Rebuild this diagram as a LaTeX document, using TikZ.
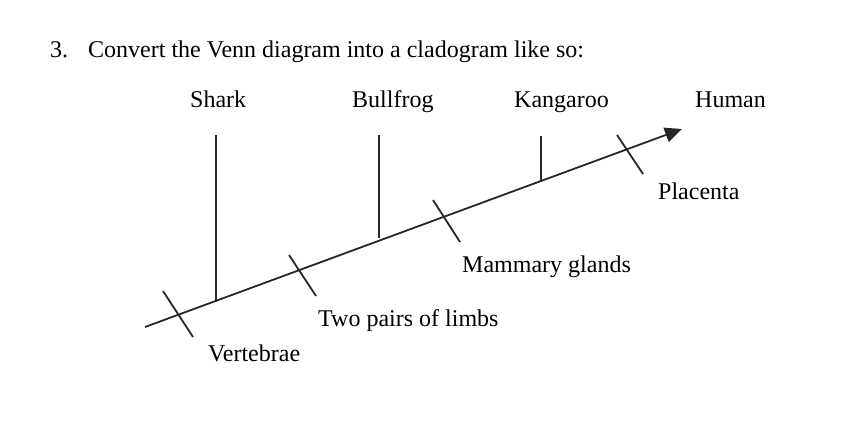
\documentclass[tikz,border=0pt]{standalone}
\usepackage{fontspec}
\setmainfont{Liberation Serif}
\usetikzlibrary{arrows.meta}
\begin{document}
\begin{tikzpicture}[x=1pt,y=-1pt,
  lbl/.style={anchor=base west,inner sep=0pt,font=\fontsize{24}{28}\selectfont},
  ln/.style={line width=1.8pt,draw=black!85}]
\useasboundingbox (0,0) rectangle (842,420);
% title
\node[lbl] (num) at (50,58) {3.};
\node[lbl] (title) at (88,58) {Convert the Venn diagram into a cladogram like so:};
% taxa
\node[lbl] (shark) at (190,107) {Shark};
\node[lbl] (frog) at (352,107) {Bullfrog};
\node[lbl] (kang) at (514,107) {Kangaroo};
\node[lbl] (human) at (695,107) {Human};
% traits
\node[lbl] (plac) at (658,199) {Placenta};
\node[lbl] (mamm) at (462,272) {Mammary glands};
\node[lbl] (limbs) at (318,326) {Two pairs of limbs};
\node[lbl] (vert) at (208,361) {Vertebrae};
% main axis
\coordinate (s) at (145,327);
\coordinate (e) at (682,129);
\draw[ln,-{Triangle[length=17pt,width=15pt]}] (s) -- (e);
% vertical branches
\coordinate (sharkT) at (216,135);
\coordinate (sharkB) at (216,302);
\coordinate (frogT) at (379,135);
\coordinate (frogB) at (379,238);
\coordinate (kangT) at (541,136);
\coordinate (kangB) at (541,182);
\draw[ln] (sharkT) -- (sharkB);
\draw[ln] (frogT) -- (frogB);
\draw[ln] (kangT) -- (kangB);
% hatch marks
\coordinate (v1) at (163,291); \coordinate (v2) at (193,337);
\coordinate (l1) at (289,255); \coordinate (l2) at (316,296);
\coordinate (m1) at (433,200); \coordinate (m2) at (460,242);
\coordinate (p1) at (617,135); \coordinate (p2) at (643,174);
\draw[ln] (v1) -- (v2);
\draw[ln] (l1) -- (l2);
\draw[ln] (m1) -- (m2);
\draw[ln] (p1) -- (p2);
\end{tikzpicture}
\end{document}
